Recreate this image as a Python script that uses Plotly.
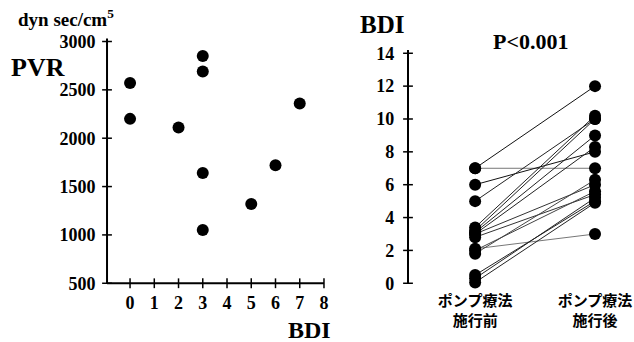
import plotly.graph_objects as go

W, H = 634, 342

# Left panel: BDI vs PVR per patient
bdi_scatter = [0, 0, 2, 3, 3, 3, 3, 5, 6, 7]
pvr_scatter = [2570, 2200, 2110, 2850, 2690, 1640, 1050, 1320, 1720, 2360]

# Right panel: BDI before / after pump therapy (paired)
bdi_before = [7.0, 7.0, 6.0, 5.0, 3.4, 3.1, 3.0, 3.0, 2.8, 3.2, 2.1, 1.8, 0.5, 0.3, 0.05, 2.0]
bdi_after = [12.0, 7.0, 8.0, 10.0, 10.2, 9.0, 8.3, 6.0, 5.4, 10.0, 3.0, 6.3, 5.0, 5.2, 4.9, 5.6]
pair_colors = ["#111", "#777", "#111", "#222", "#222", "#222", "#222", "#333", "#333",
               "#222", "#777", "#444", "#222", "#222", "#222", "#444"]

cat_labels = ["ポンプ療法<br>施行前", "ポンプ療法<br>施行後"]
left_xticks = list(range(0, 9))
left_yticks = [500, 1000, 1500, 2000, 2500, 3000]
right_yticks = list(range(0, 15, 2))

SERIF = "Liberation Serif, Times New Roman, serif"
CJK = "Noto Sans CJK JP"

# axis extents (data units) where the axis lines are drawn
L_XLINE = (-0.95, 8.0)
L_YLINE = (500, 3030)
R_XLINE = -0.56
R_YLINE = (0, 14.2)

# subplot boxes in pixels, padded slightly beyond the axis lines
L_PX = (104.6, 326.4)
L_PY = (35.7, 288.1)      # top, bottom
L_XR = (-1.05, 8.1)
L_YR = (450, 3060)
R_PX = (403.2, 634)
R_PY = (46.7, 288.2)
R_XR = (-0.6, 1.325)
R_YR = (-0.3, 14.4)


def bold(values):
    return [f"<b>{v}</b>" for v in values]


fig = go.Figure()

axis_line = dict(color="black", width=2)
tick_marker = dict(size=7, color="black", line=dict(width=1.5, color="black"))

# left panel axes
fig.add_trace(go.Scatter(
    x=[L_XLINE[0], L_XLINE[1], None, L_XLINE[0], L_XLINE[0]],
    y=[L_YLINE[0], L_YLINE[0], None, L_YLINE[0], L_YLINE[1]],
    mode="lines", line=axis_line, xaxis="x", yaxis="y",
    hoverinfo="skip", showlegend=False,
))
fig.add_trace(go.Scatter(
    x=left_xticks, y=[L_YLINE[0]] * len(left_xticks), mode="markers",
    marker=dict(symbol="line-ns", **tick_marker),
    xaxis="x", yaxis="y", cliponaxis=False, hoverinfo="skip", showlegend=False,
))
fig.add_trace(go.Scatter(
    x=[L_XLINE[0]] * len(left_yticks), y=left_yticks, mode="markers",
    marker=dict(symbol="line-ew", **tick_marker),
    xaxis="x", yaxis="y", cliponaxis=False, hoverinfo="skip", showlegend=False,
))

# right panel axis
fig.add_trace(go.Scatter(
    x=[R_XLINE, R_XLINE], y=list(R_YLINE),
    mode="lines", line=axis_line, xaxis="x2", yaxis="y2",
    hoverinfo="skip", showlegend=False,
))
fig.add_trace(go.Scatter(
    x=[R_XLINE] * len(right_yticks), y=right_yticks, mode="markers",
    marker=dict(symbol="line-ew", **tick_marker),
    xaxis="x2", yaxis="y2", cliponaxis=False, hoverinfo="skip", showlegend=False,
))

# BDI vs PVR scatter
fig.add_trace(go.Scatter(
    x=bdi_scatter, y=pvr_scatter, mode="markers",
    marker=dict(size=12, color="black"),
    xaxis="x", yaxis="y", cliponaxis=False, showlegend=False,
))

# paired before/after lines
for b, a, c in zip(bdi_before, bdi_after, pair_colors):
    fig.add_trace(go.Scatter(
        x=[0, 1], y=[b, a], mode="lines",
        line=dict(color=c, width=1),
        xaxis="x2", yaxis="y2", showlegend=False,
    ))

fig.add_trace(go.Scatter(
    x=[0] * len(bdi_before) + [1] * len(bdi_after),
    y=bdi_before + bdi_after, mode="markers",
    marker=dict(size=12, color="black"),
    xaxis="x2", yaxis="y2", cliponaxis=False, showlegend=False,
))

tick_font = dict(family=SERIF, size=18, color="black")
axis_common = dict(ticks="", showline=False, showgrid=False, zeroline=False,
                   tickfont=tick_font)

fig.update_layout(
    template="none",
    width=W, height=H,
    margin=dict(l=0, r=0, t=0, b=0, pad=0),
    paper_bgcolor="white", plot_bgcolor="white",
    xaxis=dict(
        anchor="y", domain=[L_PX[0] / W, L_PX[1] / W], range=list(L_XR),
        tickvals=left_xticks, ticktext=bold(left_xticks), ticklabelstandoff=2,
        **axis_common,
    ),
    yaxis=dict(
        anchor="x", domain=[1 - L_PY[1] / H, 1 - L_PY[0] / H], range=list(L_YR),
        tickvals=left_yticks, ticktext=bold(left_yticks), ticklabelstandoff=8,
        **axis_common,
    ),
    xaxis2=dict(
        anchor="y2", domain=[R_PX[0] / W, min(R_PX[1] / W, 1.0)], range=list(R_XR),
        tickvals=[0, 1], ticktext=bold(cat_labels), ticklabelstandoff=2,
        ticks="", showline=False, showgrid=False, zeroline=False,
        tickfont=dict(family=CJK, size=15, color="black"),
    ),
    yaxis2=dict(
        anchor="x2", domain=[1 - R_PY[1] / H, 1 - R_PY[0] / H], range=list(R_YR),
        tickvals=right_yticks, ticktext=bold(right_yticks), ticklabelstandoff=8,
        **axis_common,
    ),
)


def label(text, x, y, size, xanchor="center", family=SERIF):
    fig.add_annotation(
        text=f"<b>{text}</b>", x=x / W, y=1 - y / H, xref="paper", yref="paper",
        xanchor=xanchor, yanchor="middle", showarrow=False,
        font=dict(family=family, size=size, color="black"),
    )


label("dyn sec/cm<sup>5</sup>", 16, 18, 19, xanchor="left")
label("PVR", 9, 67, 26, xanchor="left")
label("BDI", 286, 330, 24, xanchor="left")
label("BDI", 358, 24, 25, xanchor="left")
label("P<0.001", 530, 42, 22)

fig.write_html("out.html")
